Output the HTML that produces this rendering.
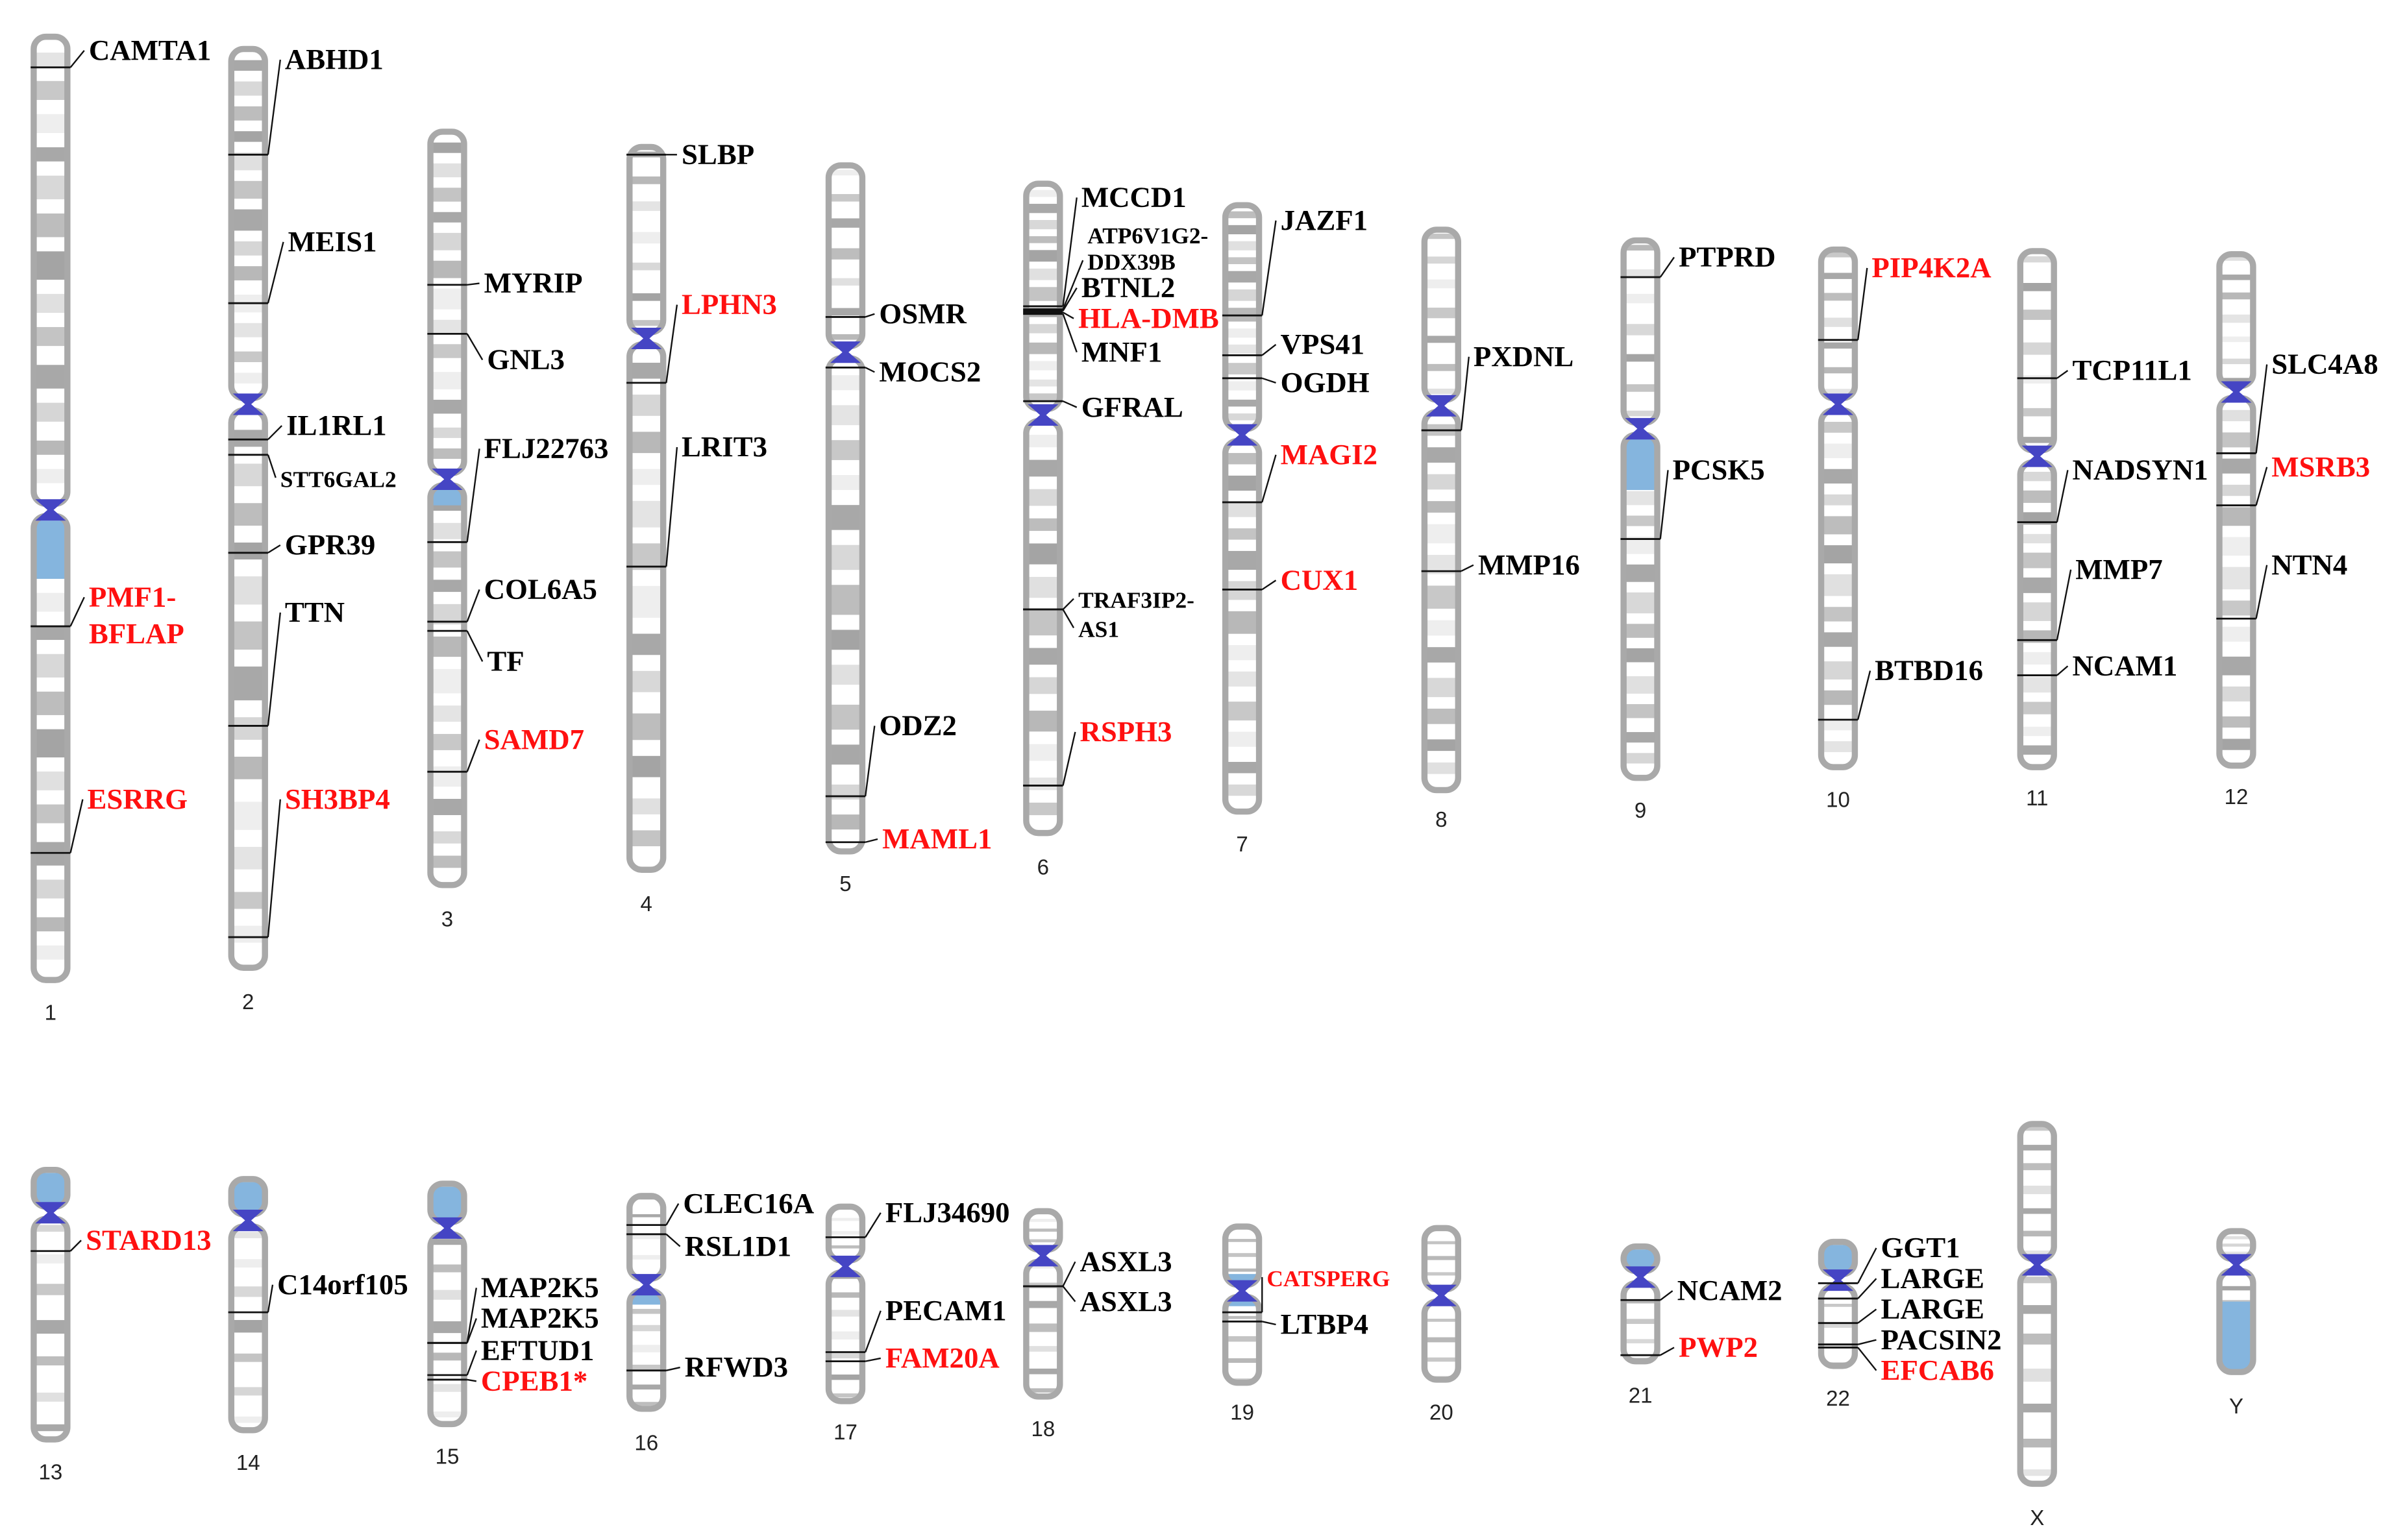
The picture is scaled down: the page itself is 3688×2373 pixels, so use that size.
<!DOCTYPE html>
<html><head><meta charset="utf-8"><style>
html,body{margin:0;padding:0;background:#fff;}
svg{display:block;}
</style></head><body>
<svg id="chart" xmlns="http://www.w3.org/2000/svg" width="3688" height="2373" viewBox="0 0 1563 1005.7" preserveAspectRatio="none">
<g id="chroms"></g>
<g id="labels"></g>
</svg>
<script>
// chromosome data: name, center x, top, bottom, centromere y, number label y
const chrNames = ['1','2','3','4','5','6','7','8','9','10','11','12','13','14','15','16','17','18','19','20','21','22','X','Y'];
const chrX   = [33,162,292,422,552,681,811,941,1071,1200,1330,1460,33,162,292,422,552,681,811,941,1071,1200,1330,1460];
const chrTop = [22,30,84,94,106,118,132,148,155,161,162,164,762,768,771,779,786,789,799,800,812,809,732,802];
const chrBot = [642,634,580,570,558,546,532,518,510,503,503,502,942,936,932,922,917,914,905,903,891,894,971,898];
const chrCen = [333,264,313,221,230,271,284,265,280,264,298,256,792,797,802,839,827,820,843,846,834,836,826,826];
const chrNumY= [661,654,600,590,577,566,551,535,529,522,521,520,961,955,951,942,935,933,922,922,911,913,991,918];
// light-blue highlighted regions [chrIndex, y0, y1]
const blueChr = [0,2,8,12,13,14,15,18,18,20,21,23];
const blueY0  = [340,318,285,766,772,775,836,832,846,816,813,850];
const blueY1  = [378,330,320,789,795,798,852,841,853,831,832,896];
// generic band pattern (fractions along arm, shade)
const bandFrom = [0.04,0.10,0.17,0.24,0.30,0.38,0.46,0.55,0.62,0.70,0.78,0.86,0.92];
const bandTo   = [0.07,0.14,0.21,0.27,0.35,0.43,0.52,0.59,0.66,0.75,0.82,0.89,0.95];
const bandShade= ['#e4e4e4','#c8c8c8','#eeeeee','#a8a8a8','#d8d8d8','#bdbdbd','#a4a4a4','#e0e0e0','#c4c4c4','#a8a8a8','#d6d6d6','#b8b8b8','#eeeeee'];
// gene labels
const gChr  = [0,0,0,1,1,1,1,1,1,1,2,2,2,2,2,2,3,3,3,4,4,4,4,5,5,5,5,5,5,5,5,5,5,6,6,6,6,6,7,7,8,8,9,9,10,10,10,10,11,11,11,12,13,14,14,14,14,15,15,15,16,16,16,17,17,18,18,20,20,21,21,21,21,21];
const gBand = [44,409,557,101,198,287,297,361,474,612,186,218,354,406,412,504,101,250,370,207,240,520,550,200,202,203,204,205,262,398,398,513,513,206,232,247,328,385,281,373,181,352,222,470,247,341,418,441,296,330,404,817,857,877,877,898,901,800,806,895,808,883,889,840,840,857,863,849,885,838,848,864,878,880];
const gTX   = [58,58,57,186,188,187,183,186,186,186,316,318,316,316,318,316,445,445,445,574,574,574,576,706,710,706,704,706,706,704,704,705,705,836,836,836,836,836,962,965,1096,1092,1222,1224,1353,1353,1355,1353,1483,1483,1483,56,181,314,314,314,314,446,447,447,578,578,578,705,705,827,836,1095,1096,1228,1228,1228,1228,1228];
const gTY   = [39,396,528,45,164,284,318,362,406,528,191,241,299,391,438,489,107,205,298,211,249,480,554,135,176,194,214,236,272,397,416,484,484,150,231,256,303,385,239,375,174,313,181,444,248,313,378,441,244,311,375,816,845,847,867,888,908,792,820,899,798,862,893,830,856,840,871,849,886,821,841,861,881,901];
const gText = ['CAMTA1','PMF1-','ESRRG','ABHD1','MEIS1','IL1RL1','STT6GAL2','GPR39','TTN','SH3BP4','MYRIP','GNL3','FLJ22763','COL6A5','TF','SAMD7','SLBP','LPHN3','LRIT3','OSMR','MOCS2','ODZ2','MAML1','MCCD1','DDX39B','BTNL2','HLA-DMB','MNF1','GFRAL','TRAF3IP2-','AS1','RSPH3','','JAZF1','VPS41','OGDH','MAGI2','CUX1','PXDNL','MMP16','PTPRD','PCSK5','PIP4K2A','BTBD16','TCP11L1','NADSYN1','MMP7','NCAM1','SLC4A8','MSRB3','NTN4','STARD13','C14orf105','MAP2K5','MAP2K5','EFTUD1','CPEB1*','CLEC16A','RSL1D1','RFWD3','FLJ34690','PECAM1','FAM20A','ASXL3','ASXL3','CATSPERG','LTBP4','NCAM2','PWP2','GGT1','LARGE','LARGE','PACSIN2','EFCAB6'];
const gRed  = [0,1,1,0,0,0,0,0,0,1,0,0,0,0,0,1,0,1,0,0,0,0,1,0,0,0,1,0,0,0,0,1,0,0,0,0,1,1,0,0,0,0,1,0,0,0,0,0,0,1,0,1,0,0,0,0,1,0,0,0,0,0,1,0,0,1,0,0,1,0,0,0,0,1];
const gSmall= [0,0,0,0,0,0,1,0,0,0,0,0,0,0,0,0,0,0,0,0,0,0,0,0,1,0,0,0,0,1,1,0,0,0,0,0,0,0,0,0,0,0,0,0,0,0,0,0,0,0,0,0,0,0,0,0,0,0,0,0,0,0,0,0,0,1,0,0,0,0,0,0,0,0];
// extra text-only lines
const xText = ['BFLAP','ATP6V1G2-'];
const xX = [58,710];
const xY = [420,159];
const xRed = [1,0];
const xSmall = [0,1];

const NS='http://www.w3.org/2000/svg';
function mk(tag, attrs, parent){const e=document.createElementNS(NS,tag);for(const k in attrs)e.setAttribute(k,attrs[k]);parent.appendChild(e);return e;}
const G=document.getElementById('chroms');
const L=document.getElementById('labels');
const W=13;
function arm(g,cx,y0,y1,idx){
  const h=y1-y0; const r=Math.min(10,h/2);
  const cid='clip'+idx+'_'+Math.round(y0);
  const cp=mk('clipPath',{id:cid},g);
  mk('rect',{x:cx-W+2,y:y0+2,width:2*W-4,height:h-4,rx:r-2,ry:r-2},cp);
  const inner=mk('g',{'clip-path':'url(#'+cid+')'},g);
  mk('rect',{x:cx-W,y:y0,width:2*W,height:h,fill:'#ffffff'},inner);
  const step = h<70 ? 3 : (h<150 ? 2 : 1);
  for(let b=0;b<bandFrom.length;b+=step){
    mk('rect',{x:cx-W,y:y0+h*bandFrom[b],width:2*W,height:Math.max(2,h*(bandTo[b]-bandFrom[b])),fill:bandShade[(b+idx*3)%bandShade.length]},inner);
  }
  for(let i=0;i<blueChr.length;i++){
    if(blueChr[i]!==idx)continue;
    const a=Math.max(blueY0[i],y0), c=Math.min(blueY1[i],y1);
    if(c>a) mk('rect',{x:cx-W,y:a,width:2*W,height:c-a,fill:'#85b5de'},inner);
  }
  const o=mk('rect',{x:cx-W+2,y:y0+2,width:2*W-4,height:h-4,rx:r-2,ry:r-2,fill:'none',stroke:'#a9a9a9','stroke-width':4},g);
  
  
}
for(let i=0;i<chrNames.length;i++){
  const g=mk('g',{},G);
  
  
  const cx=chrX[i];
  arm(g,cx,chrTop[i],chrCen[i]-2,i);
  arm(g,cx,chrCen[i]+2,chrBot[i],i);
  const cen=mk('path',{d:`M${cx-10},${chrCen[i]-7} L${cx+10},${chrCen[i]-7} L${cx+2},${chrCen[i]} L${cx+10},${chrCen[i]+7} L${cx-10},${chrCen[i]+7} L${cx-2},${chrCen[i]} Z`,fill:'#4545c4'},g);
  
  
  const t=mk('text',{x:cx,y:chrNumY[i]+5,'text-anchor':'middle','font-family':'Liberation Sans, sans-serif','font-size':14,fill:'#222'},g);
  t.textContent=chrNames[i];
  
  
}
for(let i=0;i<gChr.length;i++){
  const c=gChr[i], cx=chrX[c], by=gBand[i];
  const ln=mk('line',{x1:cx-W,y1:by,x2:cx+W,y2:by,stroke:'#111','stroke-width':1.2},L);
  
  
  if(!gText[i])continue;
  const ty=gTY[i]-6;
  const ld=mk('line',{x1:cx+W,y1:by,x2:gTX[i]-3,y2:ty,stroke:'#111','stroke-width':1},L);
  
  
  const t=mk('text',{x:gTX[i],y:gTY[i],'font-family':'Liberation Serif, serif','font-weight':'bold','font-size':gSmall[i]?15:19,fill:gRed[i]?'#ff1010':'#000'},L);
  t.textContent=gText[i];
  
  
}
for(let i=0;i<xText.length;i++){
  const t=mk('text',{x:xX[i],y:xY[i],'font-family':'Liberation Serif, serif','font-weight':'bold','font-size':xSmall[i]?15:19,fill:xRed[i]?'#ff1010':'#000'},L);
  t.textContent=xText[i];
  
  
}
</script>
</body></html>
